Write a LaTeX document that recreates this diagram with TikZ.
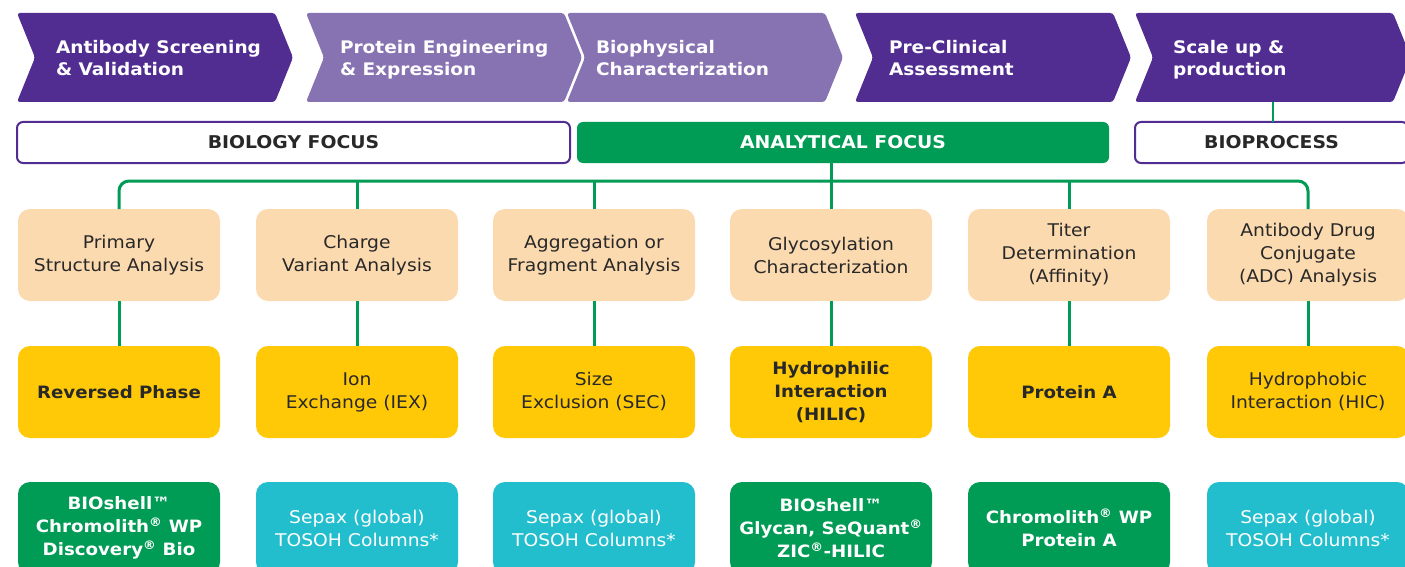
\documentclass[tikz,border=0pt]{standalone}
\usepackage{fontspec}
\setmainfont{DejaVu Sans}[FakeStretch=1.07]
\usepackage{tikz}
\usetikzlibrary{positioning, calc}
\definecolor{purpleDark}{RGB}{82, 45, 145}
\definecolor{purpleLight}{RGB}{135, 114, 178}
\definecolor{greenMain}{RGB}{0, 155, 85}
\definecolor{peach}{RGB}{252, 218, 176}
\definecolor{yellowMain}{RGB}{255, 201, 8}
\definecolor{tealMain}{RGB}{35, 190, 206}
\definecolor{textDark}{RGB}{40, 40, 40}
\newcommand{\reg}{\textsuperscript{\textregistered}}

\begin{document}
\begin{tikzpicture}[x=1pt, y=-1pt,
        every node/.style={inner sep=0pt, outer sep=0pt},
        chevtext/.style={text=white, font=\fontsize{17.3}{22}\selectfont\bfseries, align=left, anchor=west},
        focusbox/.style={draw=purpleDark, line width=2pt, fill=white, rounded corners=6pt, minimum height=41pt, font=\fontsize{17.6}{20}\selectfont\bfseries, text=textDark},
        topicbox/.style={fill=peach, rounded corners=12pt, minimum width=202pt, minimum height=92pt, align=center, font=\fontsize{17.5}{23}\selectfont, text=textDark},
        methodbox/.style={topicbox, fill=yellowMain},
        columnbox/.style={topicbox, text=white},
        boldtext/.style={font=\fontsize{17}{23}\selectfont\bfseries},
        regulartext/.style={},
        link/.style={draw=greenMain, line width=3pt}]
    \clip (0,0) rectangle (1405,567);
    \fill[white] (0,0) rectangle (1405,567);
    % process chevrons
    \foreach \x/\tx/\ty/\clr/\name/\lbl in {
        17/56/58/purpleDark/chevA/{Antibody Screening\\\& Validation},
        306/340/60/purpleLight/chevB/{Protein Engineering\\\& Expression},
        567/596/58/purpleLight/chevC/{Biophysical\\Characterization},
        855/889/58/purpleDark/chevD/{Pre-Clinical\\Assessment},
        1135/1173/60/purpleDark/chevE/{Scale up \&\\production}}
    {
        \fill[\clr, rounded corners=3pt] (\x,13) -- (\x+258,13) -- (\x+276,57.5) -- (\x+258,102) -- (\x,102) -- (\x+18,57.5) -- cycle;
        \node[chevtext] (\name) at (\tx,\ty) {\lbl};
    }
    \coordinate (chevE foot) at (1273,102);

    \node[focusbox, minimum width=553pt] (biology) at (293.5,142.5) {BIOLOGY FOCUS};
    \node[focusbox, fill=greenMain, draw=none, text=white, minimum width=532pt] (analytic) at (843,142.5) {ANALYTICAL FOCUS};
    \node[focusbox, minimum width=273pt] (bioproc) at (1271.5,142.5) {BIOPROCESS};
    \draw[greenMain, line width=1.5pt] (chevE foot) -- (bioproc.north -| chevE foot);

    \foreach \i/\x/\lbl in {
        1/119/{Primary\\Structure Analysis},
        2/357/{Charge\\Variant Analysis},
        3/594/{Aggregation or\\Fragment Analysis},
        4/831/{Glycosylation\\Characterization},
        5/1069/{Titer\\Determination\\(Affinity)},
        6/1308/{Antibody Drug\\Conjugate\\(ADC) Analysis}}
    {
        \node[topicbox] (topic\i) at (\x,255) {\lbl};
    }
    \foreach \i/\x/\wt/\lbl in {
        1/119/boldtext/{Reversed Phase},
        2/357/regulartext/{Ion\\Exchange (IEX)},
        3/594/regulartext/{Size\\Exclusion (SEC)},
        4/831/boldtext/{Hydrophilic\\Interaction\\(HILIC)},
        5/1069/boldtext/{Protein A},
        6/1308/regulartext/{Hydrophobic\\Interaction (HIC)}}
    {
        \node[methodbox, \wt] (method\i) at (\x,392) {\lbl};
    }
    \foreach \i/\x/\clr/\wt/\lbl in {
        1/119/greenMain/boldtext/{BIOshell™\\Chromolith\reg{} WP\\Discovery\reg{} Bio},
        2/357/tealMain/regulartext/{Sepax (global)\\TOSOH Columns*},
        3/594/tealMain/regulartext/{Sepax (global)\\TOSOH Columns*},
        4/831/greenMain/boldtext/{BIOshell™\\Glycan, SeQuant\reg\\ZIC\reg-HILIC},
        5/1069/greenMain/boldtext/{Chromolith\reg{} WP\\Protein A},
        6/1308/tealMain/regulartext/{Sepax (global)\\TOSOH Columns*}}
    {
        \node[columnbox, fill=\clr, \wt] (column\i) at (\x,528) {\lbl};
    }

    \coordinate (bus) at (0,181);
    \draw[link, rounded corners=10pt] (topic1.north) -- (topic1.north |- bus) -- (topic6.north |- bus) -- (topic6.north);
    \foreach \i in {2,3,5}
        \draw[link] (topic\i.north |- bus) -- (topic\i.north);
    \draw[link] (topic4.north |- analytic.south) -- (topic4.north);
    \foreach \i in {1,...,6}
        \draw[link] (topic\i.south) -- (method\i.north);
\end{tikzpicture}
\end{document}
